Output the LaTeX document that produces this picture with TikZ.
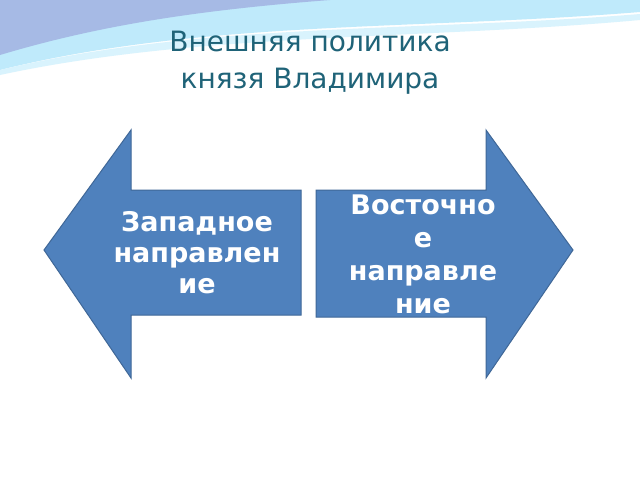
\documentclass[tikz,border=0pt]{standalone}
\usepackage{fontspec}
\setmainfont{DejaVu Sans}
\begin{document}
\begin{tikzpicture}[x=1pt,y=-1pt,
  arr/.style={fill=arrowblue,draw=arrowblue!80!black,line width=1pt},
  lbl/.style={text=white,font=\bfseries\fontsize{27}{31}\selectfont,align=center}]
\definecolor{arrowblue}{HTML}{4F81BD}
\definecolor{titlec}{HTML}{1F6378}
\useasboundingbox (0,0) rectangle (640,480);
\fill[white] (0,0) rectangle (640,480);
% top swoosh
\fill[cyan!25] (0,0) -- (640,0) -- (640,12) .. controls (420,30) and (200,20) .. (0,70) -- cycle;
\fill[cyan!45!blue!35] (0,0) -- (330,0) .. controls (200,10) and (100,25) .. (0,55) -- cycle;
\fill[cyan!15] (0,70) .. controls (200,22) and (420,32) .. (640,14) -- (640,20) .. controls (420,40) and (200,32) .. (0,75) -- cycle;
\node[text=titlec,font=\fontsize{28}{37}\selectfont,align=center] (title) at (310,63) {Внешняя политика\\ князя Владимира};
\path[arr] (44,250) -- (131,130) -- (131,190) -- (301,190) -- (301,315) -- (131,315) -- (131,378) -- cycle;
\path[arr] (573,250) -- (486,130) -- (486,190) -- (316,190) -- (316,317) -- (486,317) -- (486,378) -- cycle;
\node[lbl] (w) at (197,253) {Западное\\направлен\\ие};
\node[lbl,font=\bfseries\fontsize{27}{33}\selectfont] (e) at (423,254) {Восточно\\е\\направле\\ние};
\end{tikzpicture}
\end{document}
